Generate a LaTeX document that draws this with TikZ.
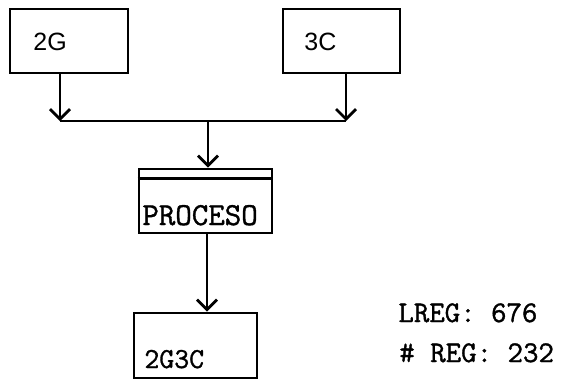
\documentclass[tikz,border=0pt]{standalone}
\usepackage{fontspec}
\newfontfamily\gsans{Liberation Sans}
\newfontfamily\twf[FakeBold=1.2]{Latin Modern Mono}
\usetikzlibrary{arrows.meta}
\begin{document}
\begin{tikzpicture}[x=1pt,y=-1pt,line width=2.8pt,
  box/.style={draw,rectangle,inner sep=0pt},
  arr/.style={-{Straight Barb[length=10pt,width=20pt,line width=2.8pt]}},
  lbl/.style={anchor=base west,inner sep=0pt},
  tw/.style={font=\twf\fontsize{30}{32}\selectfont},
  sf/.style={font=\gsans\fontsize{25}{28}\selectfont}]
\useasboundingbox (0,0) rectangle (561,380);
\node[box,minimum width=118pt,minimum height=64pt] (g2) at (69,41) {};
\node[box,minimum width=117pt,minimum height=64pt] (c3) at (341.5,41) {};
\node[box,minimum width=133pt,minimum height=64pt] (p) at (205.5,201) {};
\node[box,minimum width=123pt,minimum height=65pt] (r) at (195.5,345.5) {};
\coordinate (jl) at (60,121);
\coordinate (jr) at (346,121);
\coordinate (jc) at (208,121);
\draw[arr] (jl |- g2.south) -- (jl);
\draw[arr] (jr |- c3.south) -- (jr);
\draw (jl) -- (jr);
\draw[arr] (jc) -- (jc |- p.north);
\draw ([yshift=-11pt]p.north west) -- ([yshift=-11pt]p.north east);
\draw[arr] (p.south -| 207,0) -- (r.north -| 207,0);
\node[lbl,sf] (t2g) at (32,50) {2G};
\node[lbl,sf] (t3c) at (303,50) {3C};
\node[lbl,font=\twf\fontsize{32}{34}\selectfont] (tp) at (141,225) {PROCESO};
\node[lbl,font=\twf\fontsize{29}{32}\selectfont] (tr) at (143,368) {2G3C};
\node[lbl,tw] (tl) at (397,322) {LREG: 676};
\node[lbl,tw] (tn) at (398,362) {\# REG: 232};
\end{tikzpicture}
\end{document}
